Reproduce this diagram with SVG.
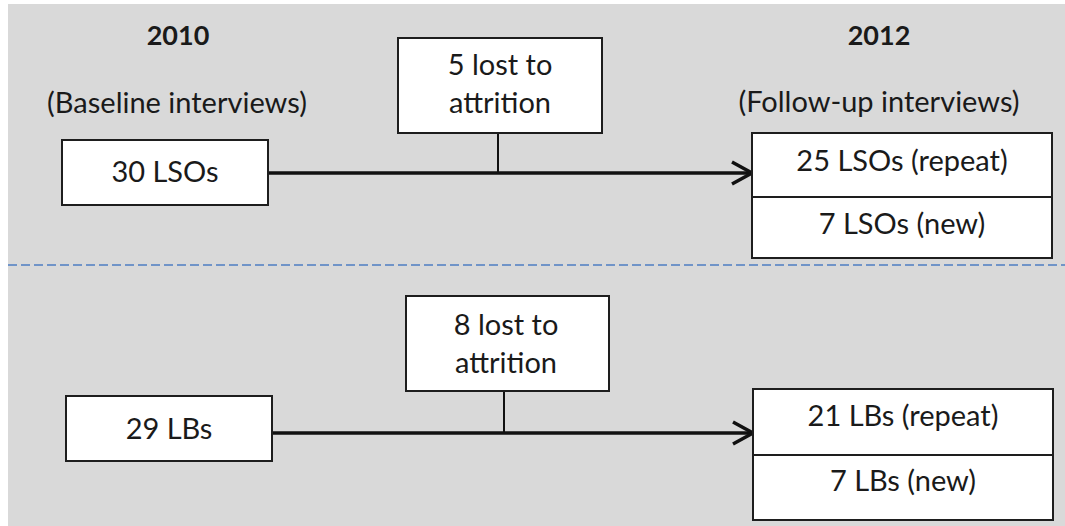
<svg xmlns="http://www.w3.org/2000/svg" width="1065" height="526" viewBox="0 0 1065 526">
  <style>
    .panel { fill: #d9d9d9; }
    .box { fill: #ffffff; stroke: #1e1e1e; stroke-width: 2; }
    .lbl { font-family: Lato, "Liberation Sans", sans-serif; font-size: 29px; fill: #1a1a1a; text-anchor: middle; }
    .yr { font-weight: bold; font-size: 27px; }
    .flow { fill: none; stroke: #111111; stroke-width: 3.5; }
    .stem { fill: none; stroke: #111111; stroke-width: 2; }
    .split { fill: none; stroke: #7094c8; stroke-width: 2; stroke-dasharray: 9 4; }
  </style>
  <defs>
    <marker id="chev" markerUnits="userSpaceOnUse" markerWidth="26" markerHeight="28" refX="22" refY="13" orient="auto">
      <polyline points="2,2 22,13 2,24" fill="none" stroke="#111111" stroke-width="3.5" stroke-linejoin="miter"/>
    </marker>
  </defs>

  <rect x="0" y="0" width="1065" height="526" fill="#ffffff"/>
  <rect class="panel" x="8" y="4" width="1057" height="522"/>

  <!-- column headings -->
  <g id="headings">
    <text class="lbl yr" x="178" y="45">2010</text>
    <text class="lbl" x="177" y="113">(Baseline interviews)</text>
    <text class="lbl yr" x="879" y="45">2012</text>
    <text class="lbl" x="879" y="112">(Follow-up interviews)</text>
  </g>

  <!-- section divider -->
  <line class="split" x1="8" y1="265" x2="1065" y2="265"/>

  <!-- connectors -->
  <g id="connectors">
    <line class="flow" x1="268" y1="173" x2="752" y2="173" marker-end="url(#chev)"/>
    <line class="stem" x1="498" y1="133" x2="498" y2="173"/>
    <line class="flow" x1="272" y1="433" x2="753" y2="433" marker-end="url(#chev)"/>
    <line class="stem" x1="504" y1="391" x2="504" y2="433"/>
  </g>

  <!-- LSO cohort -->
  <g id="lso-2010">
    <rect class="box" x="62" y="140" width="206" height="65"/>
    <text class="lbl" x="165" y="182">30 LSOs</text>
  </g>
  <g id="lso-attrition">
    <rect class="box" x="398" y="38" width="204" height="95"/>
    <text class="lbl" x="500" y="75">5 lost to</text>
    <text class="lbl" x="500" y="113">attrition</text>
  </g>
  <g id="lso-2012">
    <rect class="box" x="752" y="133" width="300" height="64"/>
    <text class="lbl" x="902" y="171">25 LSOs (repeat)</text>
    <rect class="box" x="752" y="197" width="300" height="61"/>
    <text class="lbl" x="902" y="234">7 LSOs (new)</text>
  </g>

  <!-- LB cohort -->
  <g id="lb-2010">
    <rect class="box" x="66" y="396" width="206" height="65"/>
    <text class="lbl" x="169" y="439">29 LBs</text>
  </g>
  <g id="lb-attrition">
    <rect class="box" x="406" y="296" width="203" height="95"/>
    <text class="lbl" x="506" y="335">8 lost to</text>
    <text class="lbl" x="506" y="373">attrition</text>
  </g>
  <g id="lb-2012">
    <rect class="box" x="753" y="389" width="300" height="66"/>
    <text class="lbl" x="903" y="426">21 LBs (repeat)</text>
    <rect class="box" x="753" y="455" width="300" height="65"/>
    <text class="lbl" x="903" y="491">7 LBs (new)</text>
  </g>
</svg>
